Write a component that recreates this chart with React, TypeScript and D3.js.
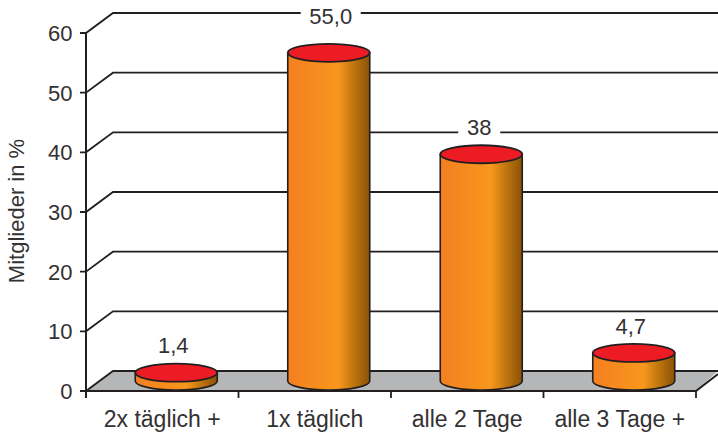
import React from "react";
import * as d3 from "d3";

const categories = ["2x täglich +", "1x täglich", "alle 2 Tage", "alle 3 Tage +"];
const values = [1.4, 55.0, 38, 4.7];
const valueLabels = ["1,4", "55,0", "38", "4,7"];
const yTicks = [0, 10, 20, 30, 40, 50, 60];
const yTitle = "Mitglieder in %";

const W = 718;
const H = 432;
const INK = "#231f20";
const TEXT = "#333132";
const FONT = "'Liberation Sans', Arial, sans-serif";
const FONT_SIZE = 22;
const CATEGORY_FONT_SIZE = 23;

// Oblique projection of the back wall and floor
const DEPTH_X = 27;
const DEPTH_Y = 20;

const y = d3.scaleLinear().domain([0, 60]).range([391, 33]);
const x = d3.scaleBand<string>().domain(categories).range([86, 696]);

// Cylinders stand in the middle of the floor
const BAR_SHIFT = 14;
const BAR_RX = 41;
const BAR_RY = 9;
const BAR_BASE = y(0) - 10;
const unitsPerPx = y(0) - y(1);

// Placement of each value label relative to its cylinder top
const labelLift = [28, 37, 27, 27];
const labelShift = [-3, 2, -2, -3];

export default function App() {
  const ticks = categories.map((_, i) => 86 + i * x.bandwidth());
  ticks.push(696);
  return (
    <svg
      width={W}
      height={H}
      viewBox={`0 0 ${W} ${H}`}
      style={{ position: "absolute", left: 0, top: 0, background: "#fff" }}
      fontFamily={FONT}
    >
      <defs>
        <linearGradient id="barBody" x1="0" x2="1" y1="0" y2="0">
          <stop offset="0" stopColor="#f47f20" />
          <stop offset="0.62" stopColor="#f8971d" />
          <stop offset="0.8" stopColor="#c0760f" />
          <stop offset="1" stopColor="#8a5206" />
        </linearGradient>
      </defs>

      {/* floor */}
      <path
        d={`M86,${y(0)} L${86 + DEPTH_X},${y(0) - DEPTH_Y} H718 L696,${y(0)} Z`}
        fill="#b5b6b8"
      />

      {/* gridlines running along the side and back walls */}
      {yTicks.map((t) => (
        <path
          key={t}
          d={`M80,${y(t)} H86 L${86 + DEPTH_X},${y(t) - DEPTH_Y} H718`}
          fill="none"
          stroke={INK}
          strokeWidth={1.8}
        />
      ))}

      {/* front edge of the floor */}
      <path
        d={`M86,${y(0)} H696 L718,${y(0) - 17}`}
        fill="none"
        stroke={INK}
        strokeWidth={2}
      />
      <line x1={86} x2={86} y1={y(60)} y2={398} stroke={INK} strokeWidth={2} />
      {ticks.map((t) => (
        <line key={t} x1={t} x2={t} y1={y(0)} y2={398} stroke={INK} strokeWidth={1.8} />
      ))}

      {/* axis text */}
      {yTicks.map((t) => (
        <text
          key={t}
          x={72.5}
          y={y(t)}
          dy="0.36em"
          textAnchor="end"
          fontSize={FONT_SIZE}
          fill={TEXT}
        >
          {t}
        </text>
      ))}
      <text
        transform="translate(24,211) rotate(-90)"
        textAnchor="middle"
        fontSize={FONT_SIZE}
        fill={TEXT}
      >
        {yTitle}
      </text>
      {categories.map((c) => (
        <text
          key={c}
          x={(x(c) as number) + x.bandwidth() / 2}
          y={427}
          textAnchor="middle"
          fontSize={CATEGORY_FONT_SIZE}
          fill={TEXT}
        >
          {c}
        </text>
      ))}

      {/* cylinders */}
      {categories.map((c, i) => {
        const cx = (x(c) as number) + x.bandwidth() / 2 + BAR_SHIFT;
        const top = BAR_BASE - values[i] * unitsPerPx;
        const left = cx - BAR_RX;
        const right = cx + BAR_RX;
        const labelX = cx + labelShift[i];
        const labelY = top - labelLift[i];
        const maskW = valueLabels[i].length > 2 ? 60 : 42;
        return (
          <g key={c}>
            <path
              d={`M${left},${top} V${BAR_BASE} A${BAR_RX},${BAR_RY} 0 0 0 ${right},${BAR_BASE} V${top} Z`}
              fill="url(#barBody)"
              stroke={INK}
              strokeWidth={1.6}
            />
            <ellipse
              cx={cx}
              cy={top}
              rx={BAR_RX}
              ry={BAR_RY}
              fill="#ed1c24"
              stroke={INK}
              strokeWidth={1.8}
            />
            <rect
              x={labelX - maskW / 2}
              y={labelY - 11}
              width={maskW}
              height={22}
              fill="#fff"
            />
            <text
              x={labelX}
              y={labelY}
              dy="0.36em"
              textAnchor="middle"
              fontSize={FONT_SIZE}
              fill={TEXT}
            >
              {valueLabels[i]}
            </text>
          </g>
        );
      })}
    </svg>
  );
}
